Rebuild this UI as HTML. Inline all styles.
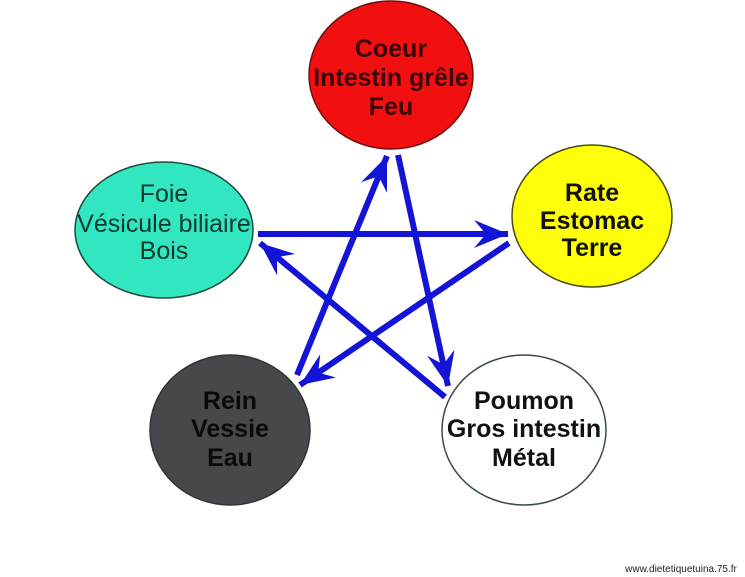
<!DOCTYPE html>
<html><head><meta charset="utf-8"><style>
html,body{margin:0;padding:0;background:#fff;}
svg{display:block;}
text{font-family:"Liberation Sans",Arial,sans-serif;font-size:25px;text-anchor:middle;}
</style></head><body>
<svg width="745" height="577" viewBox="0 0 745 577" xmlns="http://www.w3.org/2000/svg">
<defs>
<marker id="ah" markerUnits="userSpaceOnUse" markerWidth="40" markerHeight="30" refX="0" refY="0" viewBox="-34 -15 36 30" orient="auto" overflow="visible">
<path d="M0,0 L-34,-14 L-22,0 L-34,14 Z" fill="#1414d6"/>
</marker>
</defs>
<ellipse cx="391" cy="75" rx="82" ry="74" fill="#f20f0f" stroke="#6a1010" stroke-width="1.5"/>
<ellipse cx="164" cy="230" rx="89" ry="68" fill="#33e6c2" stroke="#1f4a3a" stroke-width="1.5"/>
<ellipse cx="592" cy="216" rx="80" ry="71" fill="#ffff0a" stroke="#4a4a10" stroke-width="1.5"/>
<ellipse cx="230" cy="430" rx="80" ry="75" fill="#46484b" stroke="#333" stroke-width="1.5"/>
<ellipse cx="524" cy="430" rx="82" ry="75" fill="#fff" stroke="#3a4a50" stroke-width="1.5"/>

<g stroke="#1414d6" stroke-width="6" fill="none" marker-end="url(#ah)">
<line x1="258" y1="234" x2="508" y2="234"/>
<line x1="509" y1="243" x2="300" y2="385"/>
<line x1="297" y1="375" x2="387" y2="156"/>
<line x1="398" y1="155" x2="448" y2="386"/>
<line x1="445" y1="397" x2="260" y2="243"/>
</g>

<g font-weight="bold" fill="#3a0808">
<text x="391" y="57">Coeur</text>
<text x="391" y="86">Intestin grêle</text>
<text x="391" y="115">Feu</text>
</g>
<g fill="#0c3a2c">
<text x="164" y="202">Foie</text>
<text x="164" y="232">Vésicule biliaire</text>
<text x="164" y="259">Bois</text>
</g>
<g font-weight="bold" fill="#111">
<text x="592" y="201">Rate</text>
<text x="592" y="229">Estomac</text>
<text x="592" y="256">Terre</text>
</g>
<g font-weight="bold" fill="#0a0a0a">
<text x="230" y="409">Rein</text>
<text x="230" y="437">Vessie</text>
<text x="230" y="466">Eau</text>
</g>
<g font-weight="bold" fill="#111">
<text x="524" y="409">Poumon</text>
<text x="524" y="437">Gros intestin</text>
<text x="524" y="466">Métal</text>
</g>
<text x="681" y="572" style="font-size:10px;fill:#222;">www.dietetiquetuina.75.fr</text>
</svg>
</body></html>
